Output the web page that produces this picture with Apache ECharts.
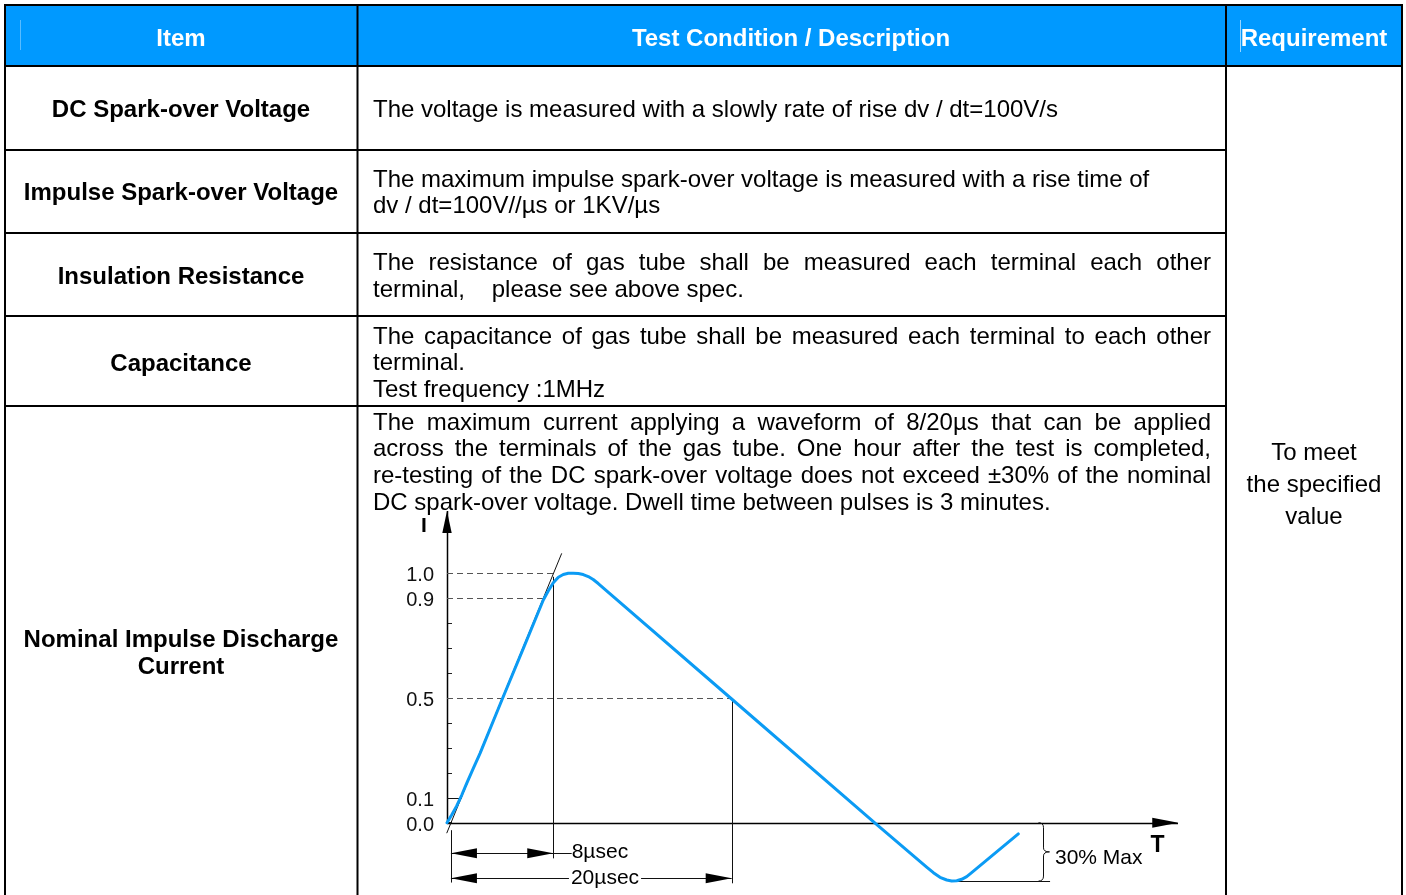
<!DOCTYPE html>
<html><head><meta charset="utf-8">
<script src="https://cdn.jsdelivr.net/npm/echarts@6/dist/echarts.min.js"></script>
<style>html,body{margin:0;padding:0;background:#fff}#c{width:1406px;height:895px}</style>
</head><body><div id="c"></div>
<script>
// ---------- table content ----------
const headers = ['Item', 'Test Condition / Description', 'Requirement'];
const items = ['DC Spark-over Voltage', 'Impulse Spark-over Voltage', 'Insulation Resistance', 'Capacitance', 'Nominal Impulse Discharge\nCurrent'];
const descriptions = [
  ['The voltage is measured with a slowly rate of rise dv / dt=100V/s'],
  ['The maximum impulse spark-over voltage is measured with a rise time of', 'dv / dt=100V//µs or 1KV/µs'],
  ['The resistance of gas tube shall be measured each terminal each other', 'terminal,    please see above spec.'],
  ['The capacitance of gas tube shall be measured each terminal to each other', 'terminal.', 'Test frequency :1MHz'],
  ['The maximum current applying a waveform of 8/20µs that can be applied', 'across the terminals of the gas tube. One hour after the test is completed,', 're-testing of the DC spark-over voltage does not exceed ±30% of the nominal', 'DC spark-over voltage. Dwell time between pulses is 3 minutes.']
];
const justified = [[false], [false, false], [true, false], [true, false, false], [true, true, true, false]];
const requirement = ['To meet', 'the specified', 'value'];

// ---------- waveform (schematic 8/20 impulse) ----------
const waveT = [0, 0.33, 0.69, 1.05, 1.40, 1.87, 2.35, 3.89, 5.43, 6.85, 7.21, 7.56, 7.92, 8.27, 8.63, 8.98, 9.34, 9.69, 10.05, 10.40, 10.76, 20.25, 30.41, 34.12, 34.60, 35.07, 35.55, 35.90, 36.26, 36.61, 36.97, 37.32, 40.64];
const waveI = [0, 0.031, 0.067, 0.111, 0.158, 0.218, 0.278, 0.49, 0.699, 0.893, 0.930, 0.962, 0.984, 0.995, 1.0, 1.0, 0.999, 0.995, 0.987, 0.975, 0.959, 0.496, 0, -0.178, -0.2005, -0.219, -0.2298, -0.2338, -0.2326, -0.227, -0.2165, -0.2005, -0.045];
const yTickLabels = ['0.0', '0.1', '0.5', '0.9', '1.0'];
const axisSegments = [[0, 0, 52, 0], [0, 0, 0, 1.25]];
const guideSegments = [
  [-0.02, -0.042, 8.16, 1.08],
  [0, 0.1, 1.05, 0.1],
  [7.56, 0.986, 7.56, -0.143],
  [20.25, 0.496, 20.25, -0.243],
  [0.28, -0.03, 0.28, -0.24],
  [0.28, -0.1227, 8.87, -0.1227],
  [0.28, -0.223, 20.25, -0.223],
  [35.9, -0.234, 42.9, -0.234]
];
const dashedSegments = [[0, 1, 7.56, 1], [0, 0.9, 6.85, 0.9], [0, 0.5, 20.25, 0.5]];
const arrowT = [0, 52.02, 0.28, 7.56, 0.28, 20.25];
const arrowI = [1.25, 0, -0.1227, -0.1227, -0.223, -0.223];
const arrowDir = ['up', 'right', 'left', 'right', 'left', 'right'];
const braceT = [42.42], braceTop = [0], braceBottom = [-0.234];
const chartLabels = ['I', 'T', '8µsec', '20µsec', '30% Max'];
const labelT = [-1.64, 50.54, 8.87, 11.24, 43.25];
const labelI = [1.19, -0.092, -0.117, -0.222, -0.1415];

// ---------- layout ----------
const FF = '"Liberation Sans", Arial, Helvetica, sans-serif';
const TY = 2;
const itemY = [108, 191, 275, 362, 652];
const descY = [[108], [178, 204], [261, 288], [335, 361, 388], [421, 447, 474, 501]];
const reqY = [451, 483, 515];
const DESC_X = 373, DESC_R = 1211, FS = 24;

const mctx = document.createElement('canvas').getContext('2d');
mctx.font = FS + 'px ' + FF;

const g = [];
g.push({type: 'rect', shape: {x: 5, y: 5, width: 1397, height: 61}, style: {fill: '#0099ff'}, z: 0});
g.push({type: 'line', shape: {x1: 20.5, y1: 20, x2: 20.5, y2: 50}, style: {stroke: 'rgba(255,255,255,0.35)', lineWidth: 1}});
g.push({type: 'line', shape: {x1: 1240.5, y1: 20, x2: 1240.5, y2: 52}, style: {stroke: 'rgba(255,255,255,0.6)', lineWidth: 1}});
const hx = [181, 791, 1314];
headers.forEach((h, i) => g.push({type: 'text', x: hx[i], y: 37 + TY, style: {text: h, fill: '#fff', fontSize: FS, fontWeight: 'bold', fontFamily: FF, textAlign: 'center', textVerticalAlign: 'middle'}}));
// borders
const L = (x1, y1, x2, y2) => g.push({type: 'line', shape: {x1, y1, x2, y2}, style: {stroke: '#000', lineWidth: 2}, z: 2});
L(4, 5, 1403, 5); L(4, 66, 1403, 66);
[150, 233, 316, 406].forEach(y => L(4, y, 1226, y));
[5, 357.5, 1226, 1402].forEach(x => L(x, 4, x, 895));
// item column
items.forEach((t, i) => g.push({type: 'text', x: 181, y: itemY[i] + TY, style: {text: t, fill: '#000', fontSize: FS, fontWeight: 'bold', fontFamily: FF, textAlign: 'center', textVerticalAlign: 'middle', lineHeight: 27}}));
// descriptions
descriptions.forEach((lines, r) => lines.forEach((line, k) => {
  const y = descY[r][k] + TY;
  if (justified[r][k]) {
    const words = line.split(' ');
    const ws = words.map(w => mctx.measureText(w).width);
    const tot = ws.reduce((a, b) => a + b, 0);
    const gap = (DESC_R - DESC_X - tot) / (words.length - 1);
    let x = DESC_X;
    words.forEach((w, j) => {
      g.push({type: 'text', x: x, y: y, style: {text: w, fill: '#000', fontSize: FS, fontFamily: FF, textAlign: 'left', textVerticalAlign: 'middle'}});
      x += ws[j] + gap;
    });
  } else {
    g.push({type: 'text', x: DESC_X, y: y, style: {text: line, fill: '#000', fontSize: FS, fontFamily: FF, textAlign: 'left', textVerticalAlign: 'middle'}});
  }
}));
requirement.forEach((t, i) => g.push({type: 'text', x: 1314, y: reqY[i] + TY, style: {text: t, fill: '#000', fontSize: FS, fontFamily: FF, textAlign: 'center', textVerticalAlign: 'middle'}}));

// ---------- chart ----------
const segRender = (color, width, dash) => (params, api) => {
  const a = api.coord([api.value(0), api.value(1)]);
  const b = api.coord([api.value(2), api.value(3)]);
  let x1 = a[0], y1 = a[1], x2 = b[0], y2 = b[1];
  if (Math.abs(x1 - x2) < 0.01) { x1 = x2 = Math.round(x1) + 0.5; }
  if (Math.abs(y1 - y2) < 0.01) { y1 = y2 = Math.round(y1) + 0.5; }
  return {type: 'line', shape: {x1, y1, x2, y2}, style: {stroke: color, lineWidth: width, lineDash: dash || null}};
};

const chart = echarts.init(document.getElementById('c'), null, {renderer: 'canvas'});
chart.setOption({
  animation: false,
  backgroundColor: '#fff',
  graphic: {elements: g},
  grid: {left: 447, top: 573.3, width: 731, height: 249.4, outerBoundsMode: 'none'},
  xAxis: {type: 'value', min: 0, max: 52, show: false},
  yAxis: {
    type: 'value', min: 0, max: 1, interval: 0.1,
    axisLine: {show: false},
    axisTick: {show: true, inside: true, length: 5, lineStyle: {color: '#222', width: 1}},
    splitLine: {show: false},
    axisLabel: {show: false}
  },
  series: [
    {type: 'custom', name: 'axes', clip: false, z: 3, data: axisSegments, renderItem: segRender('#000', 1.5)},
    {type: 'custom', name: 'guides', clip: false, z: 3, data: guideSegments, renderItem: segRender('#111', 1)},
    {type: 'custom', name: 'dashed', clip: false, z: 3, data: dashedSegments, renderItem: segRender('#555', 1, [6, 4])},
    {type: 'custom', name: 'arrows', clip: false, z: 4,
      data: arrowT.map((t, i) => [t, arrowI[i]]),
      renderItem: (params, api) => {
        const p = api.coord([api.value(0), api.value(1)]);
        const d = arrowDir[params.dataIndex];
        let pts;
        if (d === 'up') pts = [[p[0], p[1]], [p[0] - 4.7, p[1] + 22], [p[0] + 4.7, p[1] + 22]];
        else if (d === 'right') pts = [[p[0], p[1]], [p[0] - 26, p[1] - 5], [p[0] - 26, p[1] + 5]];
        else pts = [[p[0], p[1]], [p[0] + 26, p[1] - 5], [p[0] + 26, p[1] + 5]];
        return {type: 'polygon', shape: {points: pts}, style: {fill: '#000'}};
      }},
    {type: 'custom', name: 'brace', clip: false, z: 4,
      data: braceT.map((t, i) => [t, braceTop[i], braceBottom[i]]),
      renderItem: (params, api) => {
        const a = api.coord([api.value(0), api.value(1)]);
        const b = api.coord([api.value(0), api.value(2)]);
        const xs = Math.round(a[0]) + 0.5, y1 = a[1], y2 = b[1], ym = (y1 + y2) / 2;
        const path = `M${xs - 5},${y1} Q${xs},${y1} ${xs},${y1 + 5} L${xs},${ym - 4} Q${xs},${ym} ${xs + 6},${ym} Q${xs},${ym} ${xs},${ym + 4} L${xs},${y2 - 5} Q${xs},${y2} ${xs - 5},${y2}`;
        return {type: 'path', shape: {pathData: path}, style: {stroke: '#111', lineWidth: 1, fill: null}};
      }},
    {type: 'line', name: 'Impulse current', data: waveT.map((t, i) => [t, waveI[i]]), symbol: 'none', clip: false, z: 6,
      lineStyle: {color: '#0b9bf4', width: 3, cap: 'round', join: 'round'}},
    {type: 'custom', name: 'yLabels', clip: false, z: 7,
      data: yTickLabels.map(s => [0, parseFloat(s)]),
      renderItem: (params, api) => {
        const p = api.coord([api.value(0), api.value(1)]);
        return {type: 'text', x: p[0] - 13, y: p[1] + 2.5, style: {
          text: yTickLabels[params.dataIndex], fill: '#111', fontFamily: FF, fontSize: 20,
          textAlign: 'right', textVerticalAlign: 'middle'}};
      }},
    {type: 'custom', name: 'labels', clip: false, z: 7,
      data: labelT.map((t, i) => [t, labelI[i]]),
      renderItem: (params, api) => {
        const p = api.coord([api.value(0), api.value(1)]);
        const i = params.dataIndex;
        const bold = i < 2;
        const align = (i === 2 || i === 4) ? 'left' : 'center';
        return {type: 'text', x: p[0], y: p[1], style: {
          text: chartLabels[i], fill: '#000', fontFamily: FF, fontSize: i === 1 ? 23 : 21,
          fontWeight: bold ? 'bold' : 'normal', textAlign: align, textVerticalAlign: 'middle',
          backgroundColor: i === 3 ? '#fff' : null, padding: i === 3 ? [0, 2] : 0
        }};
      }}
  ]
});
</script></body></html>
